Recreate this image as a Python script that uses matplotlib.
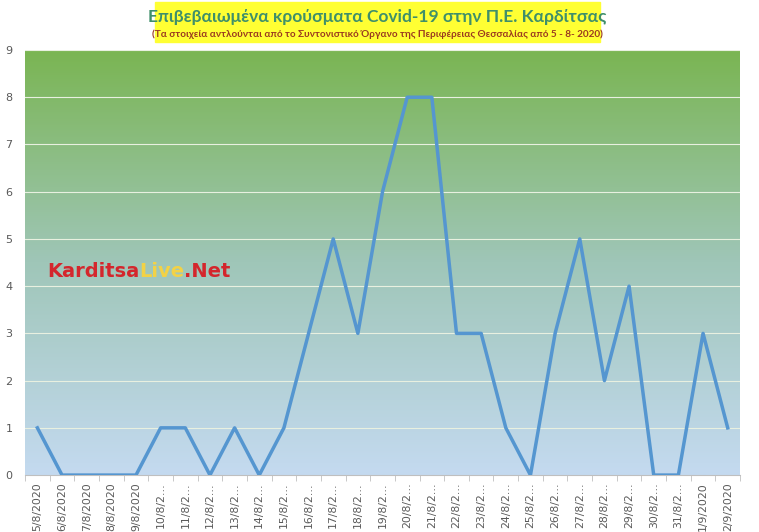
import numpy as np
import matplotlib
matplotlib.use('Agg')
import matplotlib.pyplot as plt
from matplotlib.colors import LinearSegmentedColormap

# data
dates = ['5/8/2020', '6/8/2020', '7/8/2020', '8/8/2020', '9/8/2020',
         '10/8/2…', '11/8/2…', '12/8/2…', '13/8/2…', '14/8/2…', '15/8/2…',
         '16/8/2…', '17/8/2…', '18/8/2…', '19/8/2…', '20/8/2…', '21/8/2…',
         '22/8/2…', '23/8/2…', '24/8/2…', '25/8/2…', '26/8/2…', '27/8/2…',
         '28/8/2…', '29/8/2…', '30/8/2…', '31/8/2…', '1/9/2020', '2/9/2020']
cases = [1, 0, 0, 0, 0, 1, 1, 0, 1, 0, 1, 3, 5, 3, 6, 8, 8, 3, 3, 1, 0,
         3, 5, 2, 4, 0, 0, 3, 1]

fig = plt.figure(figsize=(7.59, 5.32), dpi=100)
ax = fig.add_axes([0.033, 0.107, 0.942, 0.799])

n = len(cases)
x = np.arange(n)
ax.set_xlim(-0.5, n - 0.5)
ax.set_ylim(0, 9)

# gradient background green -> light blue
cmap = LinearSegmentedColormap.from_list('bg', ['#c4daf0', '#9fc6b8', '#7ab552'])
grad = np.linspace(0, 1, 256).reshape(-1, 1)
ax.imshow(grad, cmap=cmap, aspect='auto', origin='lower',
          extent=[-0.5, n - 0.5, 0, 9], zorder=0)

for yv in range(1, 10):
    ax.axhline(yv, color='#e8f0e0', lw=0.8, zorder=1)

ax.plot(x, cases, color='#5596d0', lw=2.5, zorder=3)

ax.set_yticks(range(10))
ax.set_xticks(x)
ax.set_xticklabels(dates, rotation=90, fontsize=7.8, color='#595959')
ax.set_xticks(np.arange(-0.5, n, 1), minor=True)
ax.tick_params(axis='x', which='major', length=0, pad=5)
ax.tick_params(axis='x', which='minor', length=4, color='#bfbfbf')
ax.tick_params(axis='y', length=0, labelsize=8, labelcolor='#595959', pad=9)
for s in ['top', 'right', 'left']:
    ax.spines[s].set_visible(False)
ax.spines['bottom'].set_color('#bfbfbf')

# title box
fig.patches.append(plt.Rectangle((155 / 759, 1 - 42 / 532), 445 / 759, 40 / 532,
                                 transform=fig.transFigure, color='#ffff33', zorder=0))
fig.text(0.497, 1 - 17 / 532, 'Επιβεβαιωμένα κρούσματα Covid-19 στην Π.Ε. Καρδίτσας',
         ha='center', va='center', fontsize=12.5, color='#3f8f6a', family='Lato', weight='bold')
fig.text(0.497, 1 - 34 / 532,
         '(Τα στοιχεία αντλούνται από το Συντονιστικό Όργανο της Περιφέρειας Θεσσαλίας από 5 - 8- 2020)',
         ha='center', va='center', fontsize=7.2, color='#9a3a20', family='Lato',
         weight='bold')

# watermark
t1 = fig.text(47 / 759, 1 - 277 / 532, 'Karditsa', fontsize=14, weight='bold',
              color='#d4262c', va='baseline')
t2 = fig.text(0, 0, 'Live', fontsize=14, weight='bold', color='#f2d246', va='baseline')
t3 = fig.text(0, 0, '.Net', fontsize=14, weight='bold', color='#d4262c', va='baseline')
fig.canvas.draw()
r = fig.canvas.get_renderer()
bb = t1.get_window_extent(r).transformed(fig.transFigure.inverted())
t2.set_position((bb.x1, 1 - 277 / 532))
bb = t2.get_window_extent(r).transformed(fig.transFigure.inverted())
t3.set_position((bb.x1, 1 - 277 / 532))

fig.savefig('out.png', dpi=100, facecolor='white')
